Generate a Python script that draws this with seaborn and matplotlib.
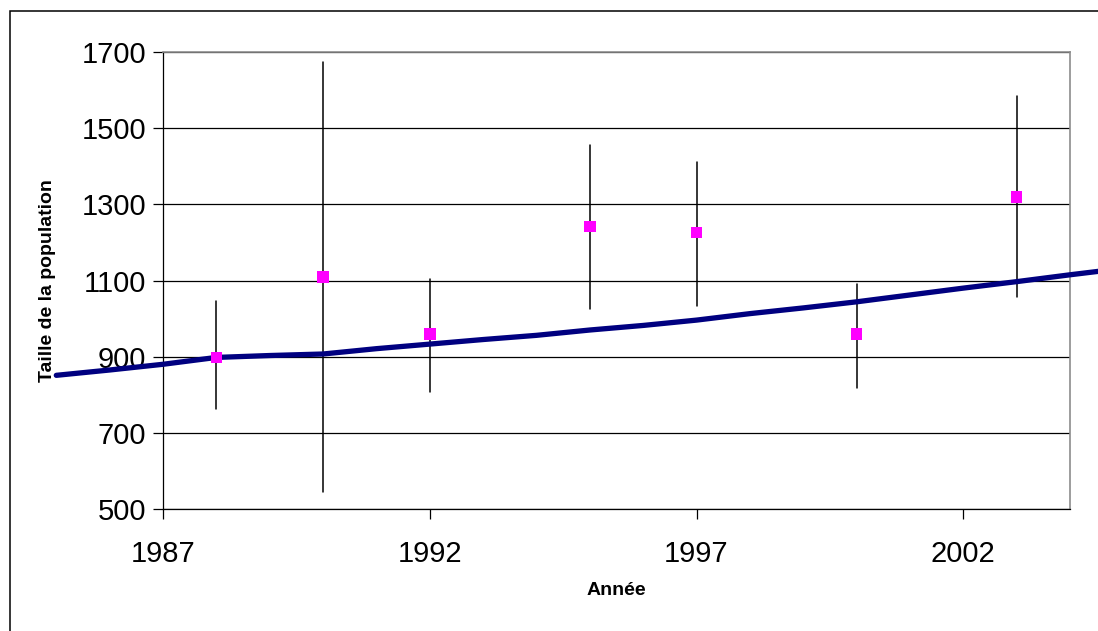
import matplotlib
matplotlib.use("Agg")
import matplotlib.pyplot as plt
import matplotlib.patches as patches
import seaborn as sns
import pandas as pd

# Trend line (model)
trend_years = [1985, 1986, 1987, 1988, 1989, 1990, 1991, 1992, 1993, 1994, 1995,
               1996, 1997, 1998, 1999, 2000, 2001, 2002, 2003, 2004, 2005]
trend_values = [851, 865, 880, 898, 903, 907, 921, 933, 945, 956, 970,
                982, 996, 1013, 1028, 1044, 1062, 1080, 1097, 1115, 1132]

# Observed estimates with confidence intervals
obs_years = [1988, 1990, 1992, 1995, 1997, 2000, 2003]
obs_values = [898, 1110, 959, 1242, 1226, 959, 1320]
obs_lower = [762, 545, 807, 1024, 1033, 817, 1056]
obs_upper = [1045, 1674, 1103, 1456, 1412, 1092, 1585]

x_ticks = [1987, 1992, 1997, 2002]
y_ticks = [500, 700, 900, 1100, 1300, 1500, 1700]

sns.set_theme(style="white")
plt.rcParams['font.family'] = ['Liberation Sans', 'DejaVu Sans']
plt.rcParams['text.color'] = 'black'
plt.rcParams['axes.labelcolor'] = 'black'
plt.rcParams['xtick.color'] = 'black'
plt.rcParams['ytick.color'] = 'black'

fig = plt.figure(figsize=(10.98, 6.31), dpi=100)
ax = fig.add_axes([163/1098, 1-509/631, (1070-163)/1098, (509-52)/631])

trend_df = pd.DataFrame({"year": trend_years, "value": trend_values})
obs_df = pd.DataFrame({"year": obs_years, "value": obs_values})

# gridlines
for yv in y_ticks:
    ax.axhline(yv, color="black", lw=0.9, zorder=0)

# error bars
for xv, lo, hi in zip(obs_years, obs_lower, obs_upper):
    ax.plot([xv, xv], [lo, hi], color="black", lw=1.1, zorder=2, clip_on=False)

sns.lineplot(data=trend_df, x="year", y="value", ax=ax, color="#000080",
             linewidth=3.8, zorder=3, clip_on=False)

sns.scatterplot(data=obs_df, x="year", y="value", ax=ax, marker="s",
                color="#FF00FF", s=70, edgecolor="none", zorder=4, clip_on=False)

ax.set_xlim(1987, 2004)
ax.set_ylim(500, 1700)
ax.set_xticks(x_ticks)
ax.set_yticks(y_ticks)
ax.set_xticklabels([str(v) for v in x_ticks])
ax.set_yticklabels([str(v) for v in y_ticks])

ax.tick_params(axis="both", which="major", labelsize=21, length=7, width=0.9,
               color="black", labelcolor="black", direction="out",
               bottom=True, left=True)
ax.tick_params(axis="y", pad=5)
ax.tick_params(axis="x", pad=15)

for side in ["left", "bottom"]:
    ax.spines[side].set_color("black")
    ax.spines[side].set_linewidth(0.9)
for side in ["top", "right"]:
    ax.spines[side].set_color("#8c8c8c")
    ax.spines[side].set_linewidth(1.2)

ax.set_xlabel("Année", fontsize=14, fontweight="bold", labelpad=10.5, color="black")
ax.set_ylabel("Taille de la population", fontsize=14, fontweight="bold",
              labelpad=18.5, color="black")

# figure border (cut off at right and bottom like the reference)
border = patches.Rectangle((10/1098, -0.1), 1.2, 1.1 - 11/631,
                           transform=fig.transFigure, fill=False,
                           edgecolor="black", linewidth=1.1, clip_on=False)
fig.patches.append(border)

fig.savefig("out.png", dpi=100)
